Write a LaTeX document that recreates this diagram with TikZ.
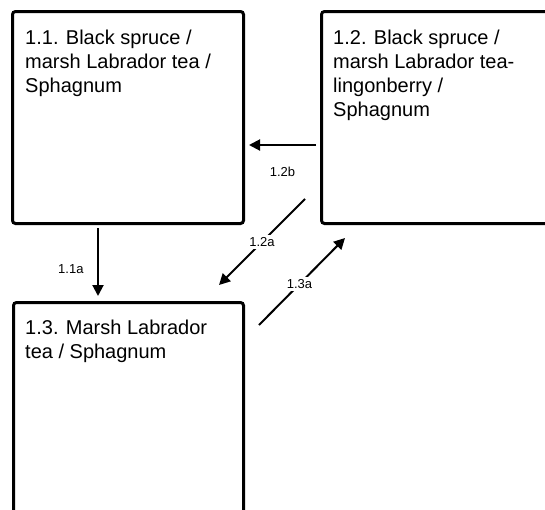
\documentclass[tikz,border=0pt]{standalone}
\usepackage{fontspec}
\setmainfont{Liberation Sans}
\usetikzlibrary{arrows.meta}

\begin{document}
\begin{tikzpicture}[x=1pt,y=-1pt,
    box/.style={draw, line width=3pt, rounded corners=3pt, anchor=north west, inner sep=0pt},
    boxtext/.style={anchor=north west, align=left, inner sep=0pt, font=\fontsize{20}{24}\selectfont},
    arr/.style={line width=2pt, -{Triangle[length=11pt,width=11pt]}},
    lbl/.style={font=\fontsize{13}{15}\selectfont, fill=white, inner sep=2.5pt}]
  \useasboundingbox (0,0) rectangle (545,509);
  \clip (0,0) rectangle (545,509);
  % boxes
  \node[box, minimum width=231pt, minimum height=212pt] (b11) at (11,10) {};
  \node[box, minimum width=260pt, minimum height=212pt] (b12) at (320,10) {};
  \node[box, minimum width=230pt, minimum height=240pt] (b13) at (12,301) {};
  \node[boxtext] (t11) at ([shift={(14,20)}]b11.north west) {1.1. Black spruce /\\marsh Labrador tea /\\Sphagnum};
  \node[boxtext] (t12) at ([shift={(13,20)}]b12.north west) {1.2. Black spruce /\\marsh Labrador tea-\\lingonberry /\\Sphagnum};
  \node[boxtext] (t13) at ([shift={(13,19)}]b13.north west) {1.3. Marsh Labrador\\tea / Sphagnum};
  % arrow ends
  \coordinate (a11s) at (98,228);   \coordinate (a11e) at (98,296);
  \coordinate (a12bs) at (316,145); \coordinate (a12be) at (249,145);
  \coordinate (a12as) at (305,199); \coordinate (a12ae) at (219,285);
  \coordinate (a13s) at (259,325);  \coordinate (a13e) at (345,238);
  % transitions
  \draw[arr] (a11s) -- node[lbl, pos=0.6, left=11pt] (l11a) {1.1a} (a11e);
  \draw[arr] (a12bs) -- node[lbl, below=19pt] (l12b) {1.2b} (a12be);
  \draw[arr] (a12as) -- node[lbl, pos=0.5] (l12a) {1.2a} (a12ae);
  \draw[arr] (a13s) -- node[lbl, pos=0.47] (l13a) {1.3a} (a13e);
\end{tikzpicture}
\end{document}
